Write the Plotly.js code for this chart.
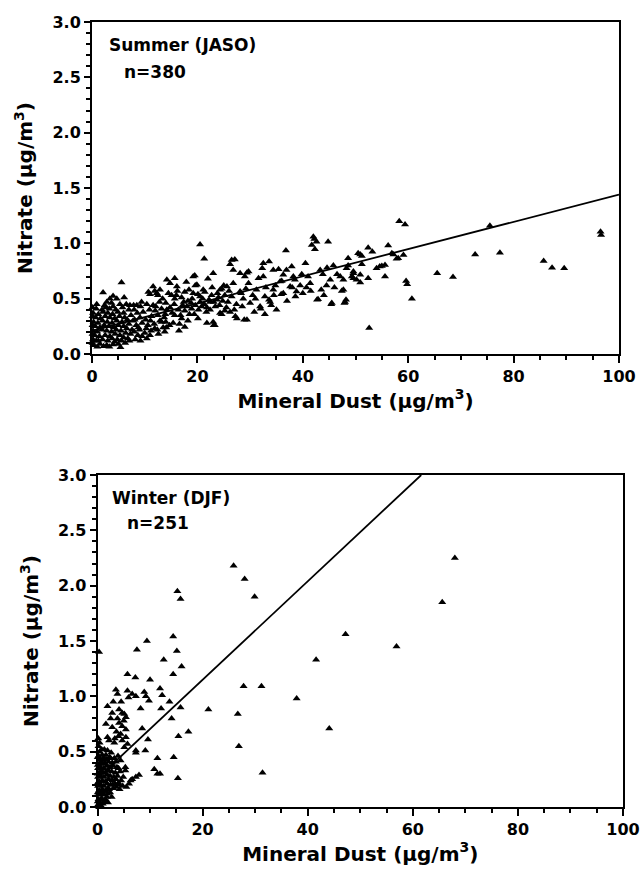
<!DOCTYPE html>
<html>
<head>
<meta charset="utf-8">
<script src="https://cdn.plot.ly/plotly-3.0.1.min.js"></script>
<style>html,body{margin:0;padding:0;background:#fff;}#chart{width:641px;height:870px;}</style>
</head>
<body>
<div id="chart"></div>
<script>
// ---- Summer (JASO), n=380 ----
const summerDust = [
58.3,59.4,75.5,96.5,96.6,72.7,77.4,85.7,87.3,89.6,
65.5,68.5,60.7,59.6,59.8,52.6,56.2,52.4,53.2,50.9,
51.2,48.6,57.2,58.1,59.1,51.2,48.3,54.0,55.0,55.6,
47.1,47.7,49.3,49.6,50.2,50.9,52.4,55.6,47.7,48.0,
48.2,42.7,45.4,47.4,47.9,35.9,33.6,32.0,28.9,27.2,
23.1,14.1,16.5,17.6,42.0,42.6,41.7,42.3,44.8,36.8,
21.3,20.5,27.1,26.2,32.5,33.6,32.3,35.4,36.3,37.9,
23.0,26.8,29.4,31.6,32.5,39.5,38.8,40.7,41.4,43.3,
45.2,48.6,49.6,50.9,54.6,57.8,56.9,42.9,45.5,20.5,
22.4,23.7,24.3,25.6,26.8,28.1,29.7,28.7,30.0,31.9,
33.8,24.3,26.2,27.5,29.4,21.8,23.3,32.8,34.4,35.7,
38.2,37.6,36.3,5.6,2.1,4.0,4.7,2.8,3.7,14.2,
14.8,15.7,16.1,19.2,19.9,21.1,10.7,11.6,12.3,12.9,
8.5,9.4,26.5,28.1,29.0,29.7,34.4,36.9,42.2,50.5,
49.6,44.0,3.4,6.1,2.4,5.3,7.2,11.0,11.9,12.5,
15.1,15.7,17.0,18.2,20.1,21.4,22.7,24.6,25.2,17.9,
19.5,19.6,22.0,14.7,16.6,18.2,20.1,21.7,23.0,24.6,
25.2,11.9,13.2,15.7,17.6,18.9,6.8,8.7,10.3,5.6,
4.3,9.5,11.0,12.6,1.0,2.2,3.3,0.3,1.5,2.8,
4.0,5.0,0.8,0.2,1.2,2.0,3.0,3.8,4.8,6.0,
0.5,1.4,2.5,3.4,4.4,5.3,6.4,7.3,0.2,1.0,
1.9,2.8,3.7,4.6,5.5,6.6,7.6,0.6,1.5,2.3,
3.2,4.1,5.0,6.0,7.0,0.3,1.1,2.0,2.9,3.8,
4.7,5.7,6.7,7.8,0.7,1.6,2.5,3.4,4.3,5.2,
6.2,7.4,0.2,1.2,2.1,3.0,3.9,4.9,6.0,0.8,
1.9,3.3,4.5,5.8,7.0,8.0,9.0,10.0,11.2,12.4,
13.5,8.4,9.5,10.6,11.8,12.9,14.0,8.1,9.1,10.2,
11.3,12.5,13.7,8.6,9.7,10.9,12.0,13.2,14.2,9.2,
10.4,11.6,12.8,14.0,8.0,14.8,15.6,16.4,17.2,18.0,
18.8,19.6,20.5,21.3,22.2,23.1,24.0,24.8,15.2,16.8,
18.5,20.2,21.8,23.4,16.0,17.6,19.2,21.0,22.8,24.2,
25.8,26.5,27.4,28.3,30.5,31.2,33.0,34.8,36.0,38.5,
39.8,41.0,43.8,44.6,45.8,46.5,40.5,38.0,25.5,27.0,
28.5,30.8,32.8,34.0,35.0,37.0,38.6,40.0,41.5,43.5,
44.5,46.0,
0.1,0.1,0.1,0.1,0.1,0.9,2.6,4.0,6.5,7.9,
5.4,6.3,7.1,8.2,9.2,10.4,8.8,11.1,13.9,12.1,
13.4,14.5,16.2,17.4,19.0,20.8,22.4,23.8,25.0,18.4,
13.8,15.4,17.0,19.4,26.0,29.2,31.0,34.5
];
const summerNitrate = [
1.20,1.17,1.16,1.105,1.075,0.90,0.915,0.84,0.78,0.775,
0.73,0.695,0.50,0.66,0.63,0.235,0.98,0.96,0.925,0.90,
0.885,0.865,0.90,0.865,0.895,0.81,0.775,0.775,0.795,0.805,
0.70,0.67,0.70,0.685,0.67,0.645,0.685,0.70,0.58,0.47,
0.49,0.49,0.45,0.57,0.46,0.54,0.49,0.41,0.31,0.34,
0.26,0.24,0.21,0.245,1.06,1.015,0.985,0.946,1.015,0.935,
0.86,0.99,0.855,0.81,0.82,0.835,0.775,0.765,0.715,0.79,
0.73,0.76,0.735,0.685,0.70,0.62,0.565,0.60,0.64,0.76,
0.67,0.80,0.745,0.715,0.79,0.86,0.91,0.495,0.46,0.52,
0.47,0.49,0.58,0.61,0.64,0.565,0.64,0.50,0.46,0.43,
0.47,0.37,0.38,0.32,0.31,0.28,0.26,0.52,0.58,0.655,
0.70,0.61,0.55,0.645,0.555,0.525,0.50,0.47,0.46,0.67,
0.64,0.685,0.61,0.70,0.625,0.58,0.56,0.61,0.55,0.58,
0.44,0.47,0.85,0.73,0.70,0.745,0.76,0.76,1.04,0.91,
0.73,0.53,0.50,0.51,0.44,0.45,0.44,0.54,0.57,0.53,
0.53,0.50,0.51,0.48,0.54,0.56,0.53,0.59,0.53,0.65,
0.71,0.62,0.68,0.26,0.27,0.30,0.32,0.38,0.29,0.36,
0.39,0.23,0.29,0.35,0.39,0.41,0.14,0.17,0.23,0.12,
0.11,0.16,0.17,0.18,0.066,0.07,0.066,0.08,0.09,0.08,
0.085,0.09,0.12,0.13,0.12,0.13,0.12,0.14,0.13,0.15,
0.17,0.16,0.17,0.16,0.18,0.17,0.19,0.18,0.21,0.20,
0.22,0.21,0.20,0.22,0.21,0.23,0.22,0.25,0.24,0.26,
0.25,0.24,0.26,0.25,0.27,0.29,0.28,0.30,0.29,0.28,
0.30,0.29,0.31,0.30,0.33,0.32,0.34,0.33,0.32,0.34,
0.33,0.35,0.37,0.36,0.38,0.37,0.36,0.38,0.37,0.41,
0.40,0.41,0.40,0.42,0.40,0.20,0.22,0.19,0.21,0.22,
0.24,0.26,0.28,0.26,0.27,0.30,0.29,0.31,0.33,0.31,
0.34,0.35,0.33,0.37,0.38,0.40,0.39,0.41,0.40,0.43,
0.45,0.44,0.47,0.46,0.40,0.42,0.45,0.40,0.44,0.43,
0.46,0.44,0.47,0.45,0.49,0.47,0.51,0.48,0.37,0.35,
0.36,0.40,0.42,0.43,0.53,0.56,0.55,0.50,0.60,0.44,
0.47,0.52,0.45,0.55,0.53,0.58,0.60,0.62,0.66,0.67,
0.72,0.70,0.72,0.78,0.80,0.72,0.82,0.60,0.42,0.40,
0.43,0.38,0.36,0.44,0.40,0.48,0.52,0.55,0.57,0.58,
0.62,0.60,
0.10,0.18,0.26,0.34,0.42,0.45,0.42,0.43,0.45,0.44,
0.06,0.10,0.12,0.13,0.12,0.14,0.24,0.30,0.36,0.43,
0.50,0.55,0.57,0.47,0.50,0.43,0.40,0.55,0.62,0.58,
0.20,0.28,0.32,0.36,0.57,0.59,0.50,0.53
];
const summerFitDust = [0, 100];
const summerFitNitrate = [0.21, 1.44];

// ---- Winter (DJF), n=251 ----
const winterDust = [
25.9,28.0,29.9,15.2,15.8,14.4,9.4,7.5,15.1,12.6,
16.0,0.3,5.7,7.2,10.0,11.9,12.3,14.4,13.7,15.8,
12.1,8.9,9.2,9.8,8.2,8.5,9.6,14.1,15.4,17.3,
21.1,26.7,26.9,27.8,31.2,31.4,37.9,41.6,11.4,14.5,
10.8,11.4,11.9,15.3,7.3,5.3,5.3,7.9,6.3,6.0,
68.0,65.6,47.2,56.9,44.1,3.5,3.8,5.7,6.6,7.3,
5.9,1.9,4.1,4.7,5.1,5.4,2.8,1.6,2.8,4.1,
4.7,5.4,4.4,5.4,1.9,2.2,3.2,4.7,5.7,5.1,
3.6,7.3,9.1,2.5,3.0,6.6,7.3,4.1,0.1,0.5,
1.0,0.2,0.8,1.5,0.1,0.6,1.2,1.9,0.3,0.9,
1.5,2.2,0.1,0.6,1.2,1.8,2.5,0.3,0.9,1.5,
2.1,2.8,0.1,0.6,1.2,1.8,2.4,3.1,0.3,0.9,
1.5,2.1,2.7,3.4,0.1,0.6,1.2,1.8,2.4,3.0,
3.7,0.3,0.9,1.5,2.1,2.8,3.5,0.5,1.1,1.7,
2.3,0.2,0.9,1.6,3.0,3.6,4.2,4.8,3.3,4.0,
4.5,3.8,4.3,3.2,2.6,1.3,0.05,0.05,0.05,0.05,
0.05,0.05,0.2,0.4,
0.3,0.7,1.3,1.8,2.4,2.9,3.5,4.0,4.4,3.9,
0.4,0.8,1.9,0.7,1.3,2.5,0.15,3.3,4.0,3.8,
4.5,5.0,2.0,2.7,5.5,4.9,1.0,1.4,2.0,0.6
];
const winterNitrate = [
2.18,2.06,1.90,1.95,1.88,1.54,1.50,1.42,1.41,1.33,
1.27,1.40,1.20,1.17,1.15,1.07,1.01,1.20,0.95,0.90,
0.89,1.04,1.00,0.96,0.89,0.71,0.61,0.80,0.64,0.68,
0.88,0.84,0.55,1.09,1.09,0.31,0.98,1.33,0.44,0.45,
0.34,0.30,0.30,0.26,0.49,0.36,0.33,0.29,0.24,0.21,
2.25,1.85,1.56,1.45,0.71,1.06,1.02,1.05,1.02,1.00,
0.99,0.91,0.88,0.85,0.84,0.81,0.85,0.75,0.72,0.76,
0.73,0.70,0.66,0.63,0.63,0.60,0.58,0.60,0.57,0.54,
0.68,0.51,0.51,0.80,0.95,0.25,0.27,0.20,0.02,0.04,
0.03,0.07,0.08,0.07,0.11,0.12,0.11,0.12,0.15,0.16,
0.15,0.16,0.19,0.20,0.19,0.21,0.20,0.23,0.24,0.23,
0.25,0.24,0.27,0.28,0.27,0.29,0.28,0.27,0.31,0.32,
0.31,0.33,0.32,0.31,0.35,0.36,0.35,0.37,0.36,0.37,
0.36,0.39,0.40,0.39,0.41,0.40,0.41,0.43,0.44,0.43,
0.45,0.46,0.47,0.47,0.17,0.18,0.16,0.19,0.21,0.22,
0.24,0.28,0.32,0.44,0.49,0.52,0.05,0.13,0.22,0.30,
0.38,0.45,0.55,0.50,
0.00,0.01,0.05,0.09,0.13,0.20,0.25,0.35,0.42,0.46,
0.58,0.52,0.51,0.32,0.39,0.44,0.62,0.62,0.64,0.80,
0.95,0.78,0.17,0.09,0.18,0.27,0.14,0.43,0.04,0.40
];
const winterFitDust = [0, 61.6];
const winterFitNitrate = [0.26, 3.0];

const yTitle = 'Nitrate (μg/m<sup>3</sup>)';
const xTitle = 'Mineral Dust (μg/m<sup>3</sup>)';
const panelLabels = ['Summer (JASO)', 'Winter (DJF)'];
const panelCounts = ['n=380', 'n=251'];

const FONT = 'DejaVu Sans, Arial, sans-serif';
const W = 641, H = 870;

const markerStyle = {symbol: 'triangle-up', size: 7, color: 'black', line: {width: 0}};
const traces = [
  {x: summerDust, y: summerNitrate, type: 'scatter', mode: 'markers', marker: markerStyle,
   xaxis: 'x', yaxis: 'y', cliponaxis: false},
  {x: summerFitDust, y: summerFitNitrate, type: 'scatter', mode: 'lines',
   line: {color: 'black', width: 1.8}, xaxis: 'x', yaxis: 'y'},
  {x: winterDust, y: winterNitrate, type: 'scatter', mode: 'markers', marker: markerStyle,
   xaxis: 'x2', yaxis: 'y2', cliponaxis: false},
  {x: winterFitDust, y: winterFitNitrate, type: 'scatter', mode: 'lines',
   line: {color: 'black', width: 1.8}, xaxis: 'x2', yaxis: 'y2'}
];

function xAxis(domain, anchor) {
  return {
    domain: domain, anchor: anchor, range: [0, 100],
    tickmode: 'linear', tick0: 0, dtick: 20,
    ticks: 'outside', ticklen: 7, tickwidth: 2, tickcolor: 'black',
    minor: {dtick: 5, ticks: 'outside', ticklen: 4, tickwidth: 2, tickcolor: 'black', showgrid: false},
    showline: true, linewidth: 2, linecolor: 'black', mirror: true,
    showgrid: false, zeroline: false,
    tickfont: {family: FONT, size: 16, color: 'black', weight: 'bold'},
    title: {text: xTitle, font: {family: FONT, size: 20, color: 'black', weight: 'bold'}, standoff: 8},
    automargin: false
  };
}
function yAxis(domain, anchor) {
  return {
    domain: domain, anchor: anchor, range: [0, 3],
    tickmode: 'linear', tick0: 0, dtick: 0.5, tickformat: '.1f',
    ticks: 'outside', ticklen: 6, tickwidth: 2, tickcolor: 'black',
    minor: {dtick: 0.1, ticks: 'outside', ticklen: 4, tickwidth: 2, tickcolor: 'black', showgrid: false},
    showline: true, linewidth: 2, linecolor: 'black', mirror: true,
    showgrid: false, zeroline: false,
    tickfont: {family: FONT, size: 16, color: 'black', weight: 'bold'},
    title: {text: yTitle, font: {family: FONT, size: 20, color: 'black', weight: 'bold'}, standoff: 14},
    automargin: false
  };
}

const annFont = {family: FONT, size: 17, color: 'black', weight: 'bold'};
const layout = {
  width: W, height: H,
  margin: {l: 0, r: 0, t: 0, b: 0},
  paper_bgcolor: 'white', plot_bgcolor: 'white',
  showlegend: false,
  font: {family: FONT, color: 'black'},
  xaxis: xAxis([92 / W, 619 / W], 'y'),
  yaxis: yAxis([(H - 354) / H, (H - 22) / H], 'x'),
  xaxis2: xAxis([97.5 / W, 623 / W], 'y2'),
  yaxis2: yAxis([(H - 807) / H, (H - 475) / H], 'x2'),
  annotations: [
    {text: panelLabels[0], xref: 'paper', yref: 'paper', x: 107 / W, y: (H - 45) / H, xanchor: 'left', yanchor: 'middle', showarrow: false, font: annFont},
    {text: panelCounts[0], xref: 'paper', yref: 'paper', x: 122 / W, y: (H - 72) / H, xanchor: 'left', yanchor: 'middle', showarrow: false, font: annFont},
    {text: panelLabels[1], xref: 'paper', yref: 'paper', x: 110 / W, y: (H - 498) / H, xanchor: 'left', yanchor: 'middle', showarrow: false, font: annFont},
    {text: panelCounts[1], xref: 'paper', yref: 'paper', x: 125 / W, y: (H - 523) / H, xanchor: 'left', yanchor: 'middle', showarrow: false, font: annFont}
  ]
};

Plotly.newPlot('chart', traces, layout, {displayModeBar: false, staticPlot: true});
</script>
</body>
</html>
